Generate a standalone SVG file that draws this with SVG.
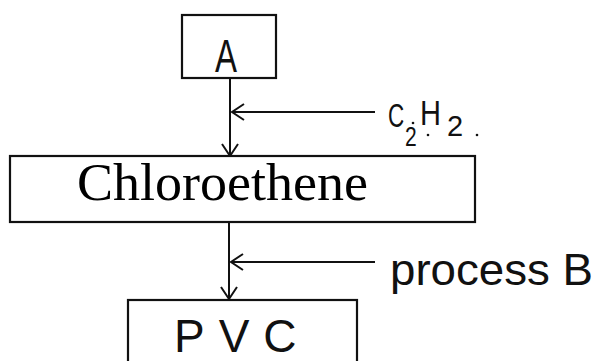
<svg xmlns="http://www.w3.org/2000/svg" width="595" height="361" viewBox="0 0 595 361">
<style>
.box{fill:#fff;stroke:#111;stroke-width:2.2}
.ln{fill:none;stroke:#111;stroke-width:2}
.hw{font-family:"Liberation Sans",sans-serif;fill:#111}
.serif{font-family:"Liberation Serif",serif;fill:#000}
</style>
<defs>
<marker id="ah" viewBox="0 0 20 20" refX="18" refY="10" markerWidth="20" markerHeight="20" markerUnits="userSpaceOnUse" orient="auto">
<polyline points="6,2 18,10 6,18" fill="none" stroke="#111" stroke-width="2"/>
</marker>
</defs>
<g id="connectors">
<line class="ln" x1="230" y1="78" x2="230" y2="156" marker-end="url(#ah)"/>
<line class="ln" x1="375" y1="112" x2="232" y2="112" marker-end="url(#ah)"/>
<line class="ln" x1="229" y1="222" x2="229" y2="299" marker-end="url(#ah)"/>
<line class="ln" x1="375" y1="262" x2="231" y2="262" marker-end="url(#ah)"/>
</g>
<g id="nodeA">
<rect class="box" x="182" y="15" width="94" height="63"/>
<text class="hw" x="215" y="72" font-size="46" textLength="22" lengthAdjust="spacingAndGlyphs">A</text>
</g>
<g id="nodeChloroethene">
<rect class="box" x="10" y="156" width="465" height="66"/>
<text class="serif" x="77" y="200" font-size="53" textLength="291" lengthAdjust="spacingAndGlyphs">Chloroethene</text>
</g>
<g id="nodePVC">
<rect class="box" x="128" y="300" width="229" height="70"/>
<text class="hw" x="174" y="352" font-size="46" letter-spacing="14">PVC</text>
</g>
<g id="labelC2H2">
<text class="hw" transform="translate(388,127) scale(0.66,1)" font-size="34">C</text>
<text class="hw" transform="translate(405,146) scale(0.78,1)" font-size="27">2</text>
<text class="hw" transform="translate(420,125) scale(0.83,1)" font-size="35">H</text>
<text class="hw" x="447" y="136" font-size="29">2</text>
<circle cx="413" cy="123" r="1.3" fill="#111"/>
<circle cx="428" cy="135" r="1.3" fill="#111"/>
<circle cx="477" cy="135" r="1.3" fill="#111"/>
</g>
<g id="labelProcessB">
<text class="hw" x="390" y="285" font-size="45" textLength="203" lengthAdjust="spacingAndGlyphs">process B</text>
</g>
</svg>
